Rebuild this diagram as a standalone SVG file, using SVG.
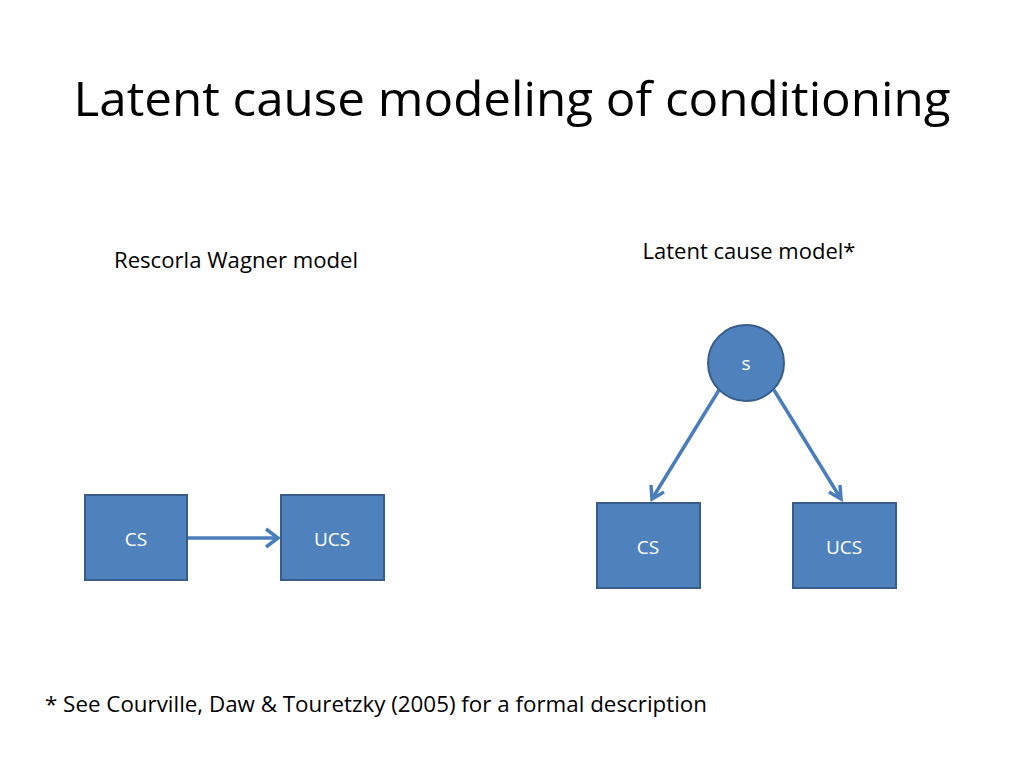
<svg xmlns="http://www.w3.org/2000/svg" width="1024" height="768" viewBox="0 0 1024 768">
<style>
text{font-family:"Open Sans","Liberation Sans",sans-serif}
.n{fill:#4F81BD;stroke:#385D8A;stroke-width:2}
.w{fill:#fff;font-size:19px;text-anchor:middle}
.c{stroke:#4A7EBB;stroke-width:3.5;fill:none}
.a{fill:none;stroke:#4A7EBB;stroke-width:3.5}
</style>
<rect width="1024" height="768" fill="#fff"/>
<text x="512" y="116" font-size="48" text-anchor="middle" textLength="877" lengthAdjust="spacingAndGlyphs" fill="#000">Latent cause modeling of conditioning</text>
<text x="236" y="268" font-size="21" text-anchor="middle" textLength="244" lengthAdjust="spacingAndGlyphs">Rescorla Wagner model</text>
<text x="749" y="259" font-size="21" text-anchor="middle" textLength="213" lengthAdjust="spacingAndGlyphs">Latent cause model*</text>
<text x="376" y="712" font-size="21" text-anchor="middle" textLength="662" lengthAdjust="spacingAndGlyphs">* See Courville, Daw &amp; Touretzky (2005) for a formal description</text>
<g id="connectors">
<line class="c" x1="188" y1="538" x2="278" y2="538"/><polyline class="a" points="266,529 278,538 266,547"/>
<line class="c" x1="719" y1="390" x2="652" y2="499"/><polyline class="a" points="651,485 652,499 664,492"/>
<line class="c" x1="774" y1="390" x2="841" y2="499"/><polyline class="a" points="829,492 841,499 840,485"/>
</g>
<g id="cs1"><rect class="n" x="85" y="495" width="102" height="85"/><text class="w" x="136" y="546">CS</text></g>
<g id="ucs1"><rect class="n" x="281" y="495" width="103" height="85"/><text class="w" x="332" y="546">UCS</text></g>
<g id="s"><circle class="n" cx="746" cy="363" r="38"/><text class="w" x="746" y="370" font-size="17">s</text></g>
<g id="cs2"><rect class="n" x="597" y="503" width="103" height="85"/><text class="w" x="648" y="554">CS</text></g>
<g id="ucs2"><rect class="n" x="793" y="503" width="103" height="85"/><text class="w" x="844" y="554">UCS</text></g>
</svg>
